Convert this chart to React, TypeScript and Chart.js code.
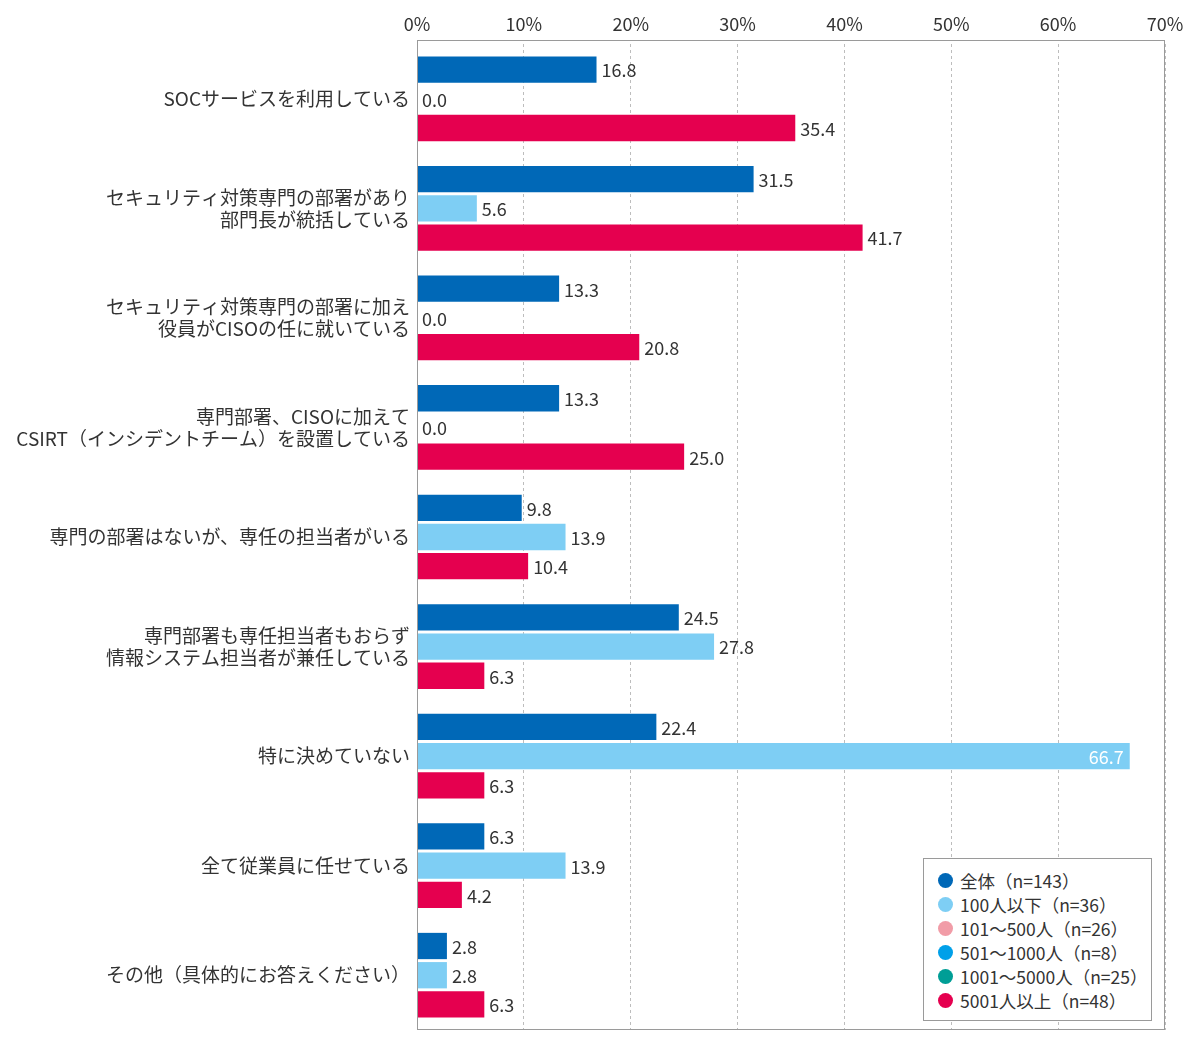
import React, { useEffect, useRef } from 'react';
import { Chart, registerables, Plugin } from 'chart.js';

Chart.register(...registerables);

const categories = [
  'SOCサービスを利用している',
  ['セキュリティ対策専門の部署があり', '部門長が統括している'],
  ['セキュリティ対策専門の部署に加え', '役員がCISOの任に就いている'],
  ['専門部署、CISOに加えて', 'CSIRT（インシデントチーム）を設置している'],
  '専門の部署はないが、専任の担当者がいる',
  ['専門部署も専任担当者もおらず', '情報システム担当者が兼任している'],
  '特に決めていない',
  '全て従業員に任せている',
  'その他（具体的にお答えください）',
];

const valuesAll = [16.8, 31.5, 13.3, 13.3, 9.8, 24.5, 22.4, 6.3, 2.8];
const values100 = [0.0, 5.6, 0.0, 0.0, 13.9, 27.8, 66.7, 13.9, 2.8];
const values5001 = [35.4, 41.7, 20.8, 25.0, 10.4, 6.3, 6.3, 4.2, 6.3];

const xTicks = [0, 10, 20, 30, 40, 50, 60, 70];

const legendLabels = [
  '全体（n=143）',
  '100人以下（n=36）',
  '101～500人（n=26）',
  '501～1000人（n=8）',
  '1001～5000人（n=25）',
  '5001人以上（n=48）',
];
const legendColors = ['#0068b7', '#7ecef4', '#f19ca7', '#00a0e9', '#009e96', '#e5004f'];

const FONT = '"Noto Sans CJK JP", "Noto Sans", sans-serif';

// frame around the plot area
const framePlugin: Plugin = {
  id: 'frame',
  afterDraw(chart) {
    const { ctx, chartArea: a } = chart;
    ctx.save();
    ctx.strokeStyle = '#9a9a9a';
    ctx.lineWidth = 1;
    ctx.strokeRect(a.left + 0.5, a.top - 3.5, a.right - a.left - 1, a.bottom - a.top + 3);
    ctx.restore();
  },
};

// value labels next to bars
const valueLabels: Plugin = {
  id: 'valueLabels',
  afterDatasetsDraw(chart) {
    const { ctx } = chart;
    ctx.save();
    ctx.font = `18px ${FONT}`;
    ctx.textBaseline = 'middle';
    chart.data.datasets.forEach((ds, di) => {
      const meta = chart.getDatasetMeta(di);
      meta.data.forEach((bar: any, i) => {
        const v = ds.data[i] as number;
        const txt = v.toFixed(1);
        if (v > 60) {
          ctx.fillStyle = '#ffffff';
          ctx.textAlign = 'right';
          ctx.fillText(txt, bar.x - 6, bar.y + 1);
        } else {
          ctx.fillStyle = '#333333';
          ctx.textAlign = 'left';
          ctx.fillText(txt, bar.x + 5, bar.y + 1);
        }
      });
    });
    ctx.restore();
  },
};

export default function App() {
  const canvasRef = useRef<HTMLCanvasElement>(null);

  useEffect(() => {
    document.body.style.margin = '0';
    if (!canvasRef.current) return;
    const chart = new Chart(canvasRef.current, {
      type: 'bar',
      data: {
        labels: categories,
        datasets: [
          { label: legendLabels[0], data: valuesAll, backgroundColor: legendColors[0] },
          { label: legendLabels[1], data: values100, backgroundColor: legendColors[1] },
          { label: legendLabels[5], data: values5001, backgroundColor: legendColors[5] },
        ],
      },
      options: {
        indexAxis: 'y',
        animation: false,
        responsive: false,
        maintainAspectRatio: false,
        layout: { padding: { left: 0, right: 35, top: 0, bottom: 25 } },
        datasets: { bar: { categoryPercentage: 0.8, barPercentage: 0.9 } },
        plugins: { legend: { display: false }, tooltip: { enabled: false } },
        scales: {
          x: {
            position: 'top',
            min: 0,
            max: 70,
            afterBuildTicks: (s: any) => {
              s.ticks = xTicks.map((v) => ({ value: v }));
            },
            afterFit: (s: any) => {
              s.height = 44;
            },
            ticks: {
              padding: 9,
              color: '#333',
              font: { family: FONT, size: 18 },
              callback: (v: any) => v + '%',
            },
            grid: {
              drawTicks: false,
              color: '#bdbdbd',
            },
            border: { display: false, dash: [3, 3] },
          },
          y: {
            afterFit: (s: any) => {
              s.width = 417;
            },
            ticks: {
              padding: 7,
              color: '#333',
              font: { family: FONT, size: 19, lineHeight: 1.16 },
            },
            grid: { display: false, drawTicks: false },
            border: { display: false },
          },
        },
      },
      plugins: [framePlugin, valueLabels],
    });
    return () => chart.destroy();
  }, []);

  return (
    <div style={{ position: 'relative', width: 1200, height: 1055, background: '#fff' }}>
      <canvas ref={canvasRef} width={1200} height={1055} style={{ width: 1200, height: 1055 }} />
      <div
        style={{
          position: 'absolute',
          left: 923,
          top: 858,
          width: 229,
          height: 163,
          border: '1px solid #9a9a9a',
          background: '#fff',
          boxSizing: 'border-box',
          padding: '9px 0 0 14px',
          fontFamily: FONT,
          fontSize: 17.5,
          color: '#333',
        }}
      >
        {legendLabels.map((l, i) => (
          <div key={l} style={{ display: 'flex', alignItems: 'center', height: 24 }}>
            <span
              style={{
                display: 'inline-block',
                width: 15,
                height: 15,
                borderRadius: '50%',
                background: legendColors[i],
                marginRight: 7,
              }}
            />
            <span style={{ whiteSpace: 'nowrap' }}>{l}</span>
          </div>
        ))}
      </div>
    </div>
  );
}
